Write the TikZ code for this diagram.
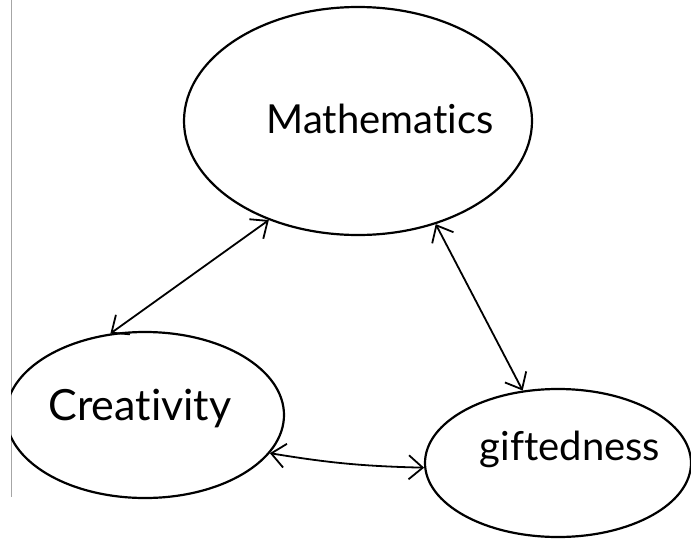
\documentclass[tikz,border=0pt]{standalone}
\usepackage{fontspec}
\setmainfont{Lato}[Ligatures={NoCommon}]
\usetikzlibrary{shapes.geometric,arrows.meta}
\tikzset{
  blob/.style={draw=black, line width=2.2pt, ellipse, inner sep=0pt},
  lbl/.style={anchor=base, font=\fontsize{40}{48}\selectfont, text=black},
  tip/.style={Straight Barb[length=14pt,width=24pt,line width=1.8pt]},
  link/.style={line width=1.8pt, {Straight Barb[length=14pt,width=24pt,line width=1.8pt]}-{Straight Barb[length=14pt,width=24pt,line width=1.8pt]}}
}
\begin{document}
\begin{tikzpicture}[x=1pt,y=-1pt]
\useasboundingbox (0,0) rectangle (691,541);
\fill[white] (0,0) rectangle (691,541);
\coordinate (edgetop) at (11,0);
\coordinate (edgebot) at (11,497);
\draw[gray!70, line width=1pt] (edgetop) -- (edgebot);
\begin{scope}
\clip (11,0) rectangle (691,541);
\node[blob, minimum width=348pt, minimum height=228pt] (math) at (358,121) {};
\node[blob, minimum width=278pt, minimum height=166pt] (crea) at (145,415) {};
\node[blob, minimum width=266pt, minimum height=148pt] (gift) at (558,463) {};
\end{scope}
\node[lbl] (mtxt) at (380,133) {Mathematics};
\node[lbl, font=\fontsize{43}{50}\selectfont] (ctxt) at (140,420) {Creativity};
\node[lbl] (gtxt) at (570,460) {giftedness};
\draw[link] (math.228) -- (crea.113);
\draw[link] (math.307) -- (gift.116);
\draw[link] (crea.343) to[bend right=4] (gift.182);
\end{tikzpicture}
\end{document}
